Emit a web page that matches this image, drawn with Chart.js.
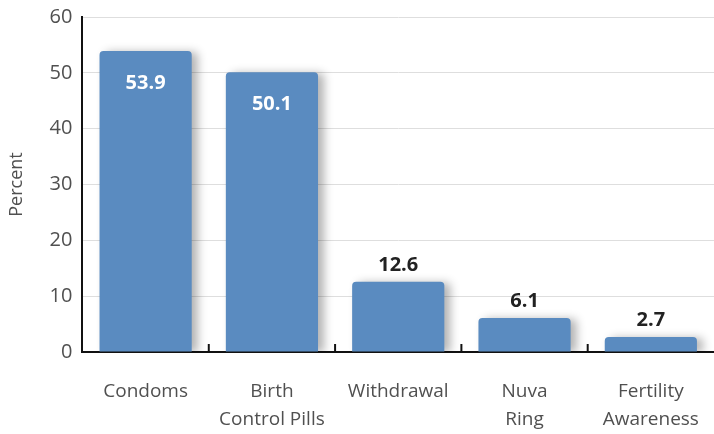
<!DOCTYPE html>
<html>
<head>
<meta charset="utf-8">
<script src="https://cdn.jsdelivr.net/npm/chart.js@4/dist/chart.umd.min.js"></script>
<style>
    html, body { margin: 0; padding: 0; background: #fff; }
    #wrap { width: 714px; height: 434px; position: relative; }
</style>
</head>
<body>
<div id="wrap"><canvas id="methods-chart"></canvas></div>
<script>
// Contraceptive method use, percent of respondents.
const CATEGORIES = [
    ["Condoms"],
    ["Birth", "Control Pills"],
    ["Withdrawal"],
    ["Nuva", "Ring"],
    ["Fertility", "Awareness"],
];
const PERCENTS = [53.9, 50.1, 12.6, 6.1, 2.7];
const Y_TICKS = [0, 10, 20, 30, 40, 50, 60];

const BAR_BLUE = "#5a8bc0";
const TEXT_GREY = "#505050";
const FONT = "'Open Sans', 'Noto Sans', sans-serif";

// Soft drop shadow behind the bars, like the printed original.
const barShadow = {
    id: "barShadow",
    beforeDatasetDraw(chart) {
        const ctx = chart.ctx;
        ctx.save();
        ctx.shadowColor = "rgba(0, 0, 0, 0.3)";
        ctx.shadowBlur = 10;
        ctx.shadowOffsetX = 6;
        ctx.shadowOffsetY = 1;
    },
    afterDatasetDraw(chart) {
        chart.ctx.restore();
    },
};

// Value labels: white inside tall bars, dark above short ones.
const valueLabels = {
    id: "valueLabels",
    afterDatasetsDraw(chart) {
        const ctx = chart.ctx;
        const meta = chart.getDatasetMeta(0);
        ctx.save();
        ctx.font = "bold 20px " + FONT;
        ctx.textAlign = "center";
        ctx.textBaseline = "alphabetic";
        meta.data.forEach((bar, i) => {
            const v = PERCENTS[i];
            if (v > 30) {
                ctx.fillStyle = "#ffffff";
                ctx.fillText(v.toFixed(1), bar.x, bar.y + 38);
            } else {
                ctx.fillStyle = "#222222";
                ctx.fillText(v.toFixed(1), bar.x, bar.y - 11);
            }
        });
        ctx.restore();
    },
};

// Short upward ticks on the x axis between categories.
const categoryTicks = {
    id: "categoryTicks",
    afterDraw(chart) {
        const x = chart.scales.x;
        const bottom = chart.chartArea.bottom;
        const ctx = chart.ctx;
        ctx.save();
        ctx.strokeStyle = "#111";
        ctx.lineWidth = 2;
        for (let i = 1; i < CATEGORIES.length; i++) {
            const px = (x.getPixelForValue(i - 1) + x.getPixelForValue(i)) / 2;
            ctx.beginPath();
            ctx.moveTo(px, bottom);
            ctx.lineTo(px, bottom - 8);
            ctx.stroke();
        }
        ctx.restore();
    },
};

new Chart(document.getElementById("methods-chart"), {
    type: "bar",
    data: {
        labels: CATEGORIES,
        datasets: [{
            data: PERCENTS,
            backgroundColor: BAR_BLUE,
            borderWidth: 0,
            borderRadius: { topLeft: 4, topRight: 4 },
            borderSkipped: "bottom",
            categoryPercentage: 0.73,
            barPercentage: 1.0,
        }],
    },
    options: {
        responsive: true,
        maintainAspectRatio: false,
        animation: false,
        // plot runs slightly past the right edge, as in the printed chart
        layout: { padding: { top: 17, right: -4, bottom: 0, left: 6 } },
        plugins: {
            legend: { display: false },
            tooltip: { enabled: false },
        },
        scales: {
            x: {
                // the two-line labels fit in a fixed strip under the axis
                afterFit(scale) {
                    scale.height = 82;
                    scale.paddingLeft = 0;
                    scale.paddingRight = 0;
                },
                grid: { display: false, drawTicks: false },
                border: { display: true, color: "#111", width: 2 },
                ticks: {
                    color: TEXT_GREY,
                    font: { family: FONT, size: 19, weight: 400, lineHeight: 1.5 },
                    padding: 25,
                    maxRotation: 0,
                    autoSkip: false,
                },
            },
            y: {
                min: 0,
                max: 60,
                afterBuildTicks(axis) {
                    axis.ticks = Y_TICKS.map(v => ({ value: v }));
                },
                afterFit(scale) {
                    scale.paddingTop = 0;
                    scale.paddingBottom = 0;
                },
                grid: { color: "#dedede", lineWidth: 1, drawTicks: false },
                border: { display: true, color: "#111", width: 2 },
                ticks: {
                    color: TEXT_GREY,
                    font: { family: FONT, size: 20, weight: 400 },
                    padding: 10,
                },
                title: {
                    display: true,
                    text: "Percent",
                    color: TEXT_GREY,
                    font: { family: FONT, size: 18, weight: 400 },
                    padding: { top: 0, bottom: 12 },
                },
            },
        },
    },
    plugins: [barShadow, valueLabels, categoryTicks],
});
</script>
</body>
</html>
